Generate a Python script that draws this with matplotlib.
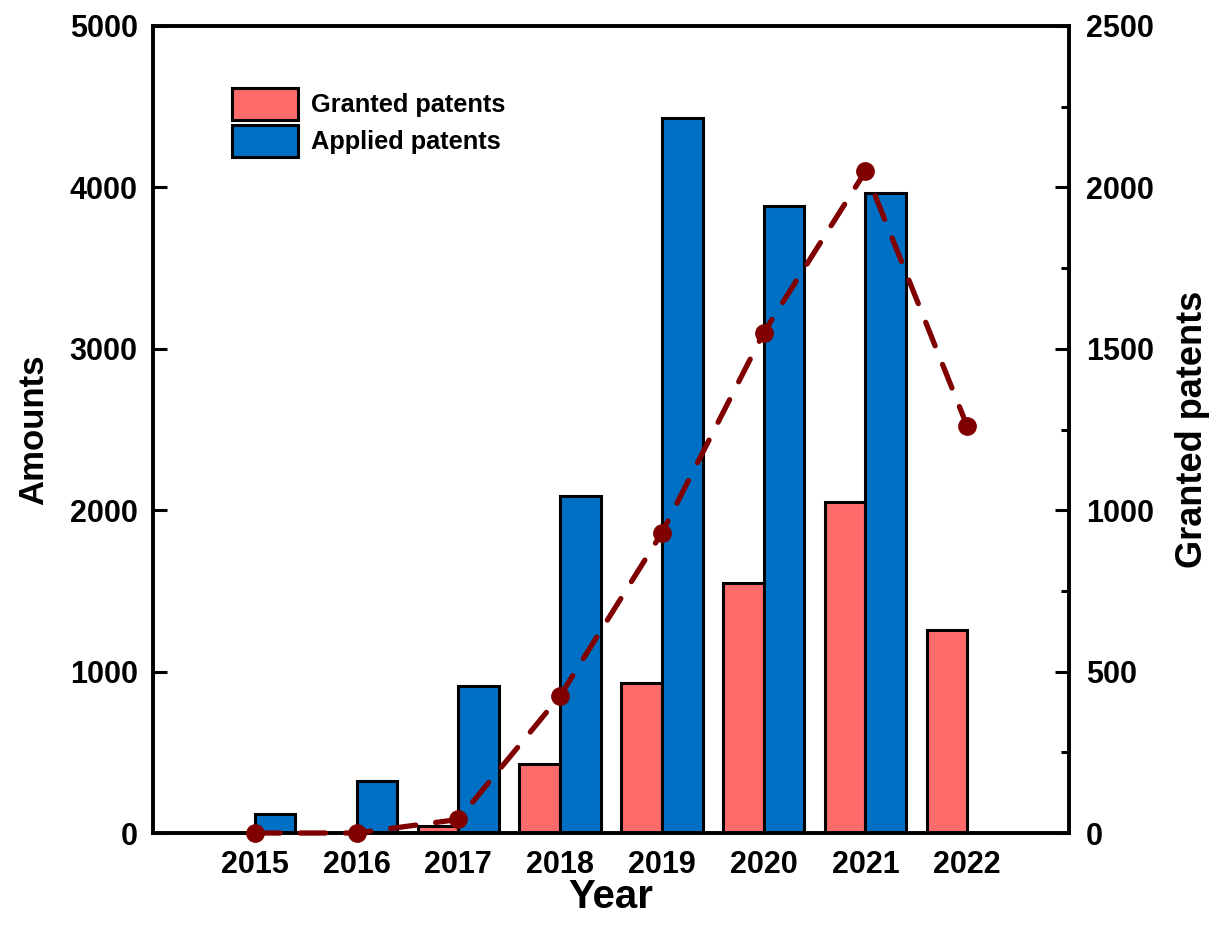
import matplotlib
matplotlib.use("Agg")
import matplotlib.pyplot as plt
import numpy as np

years = [2015, 2016, 2017, 2018, 2019, 2020, 2021, 2022]
applied = [118, 320, 910, 2085, 4430, 3885, 3965, 0]
granted = [0, 0, 42, 425, 930, 1550, 2050, 1260]
left_ticks = [0, 1000, 2000, 3000, 4000, 5000]
right_ticks = [0, 500, 1000, 1500, 2000, 2500]

plt.rcParams['font.family'] = ['Liberation Sans', 'DejaVu Sans']
plt.rcParams['font.weight'] = 'bold'

fig = plt.figure(figsize=(12.17, 9.42), dpi=100)
ax = fig.add_axes([0.1257, 0.1157, 0.8784 - 0.1257, 0.9724 - 0.1157])

x = np.array(years, dtype=float)
w = 0.4
red = '#FF6B6B'
blue = '#0070C4'
ax.bar(x - w / 2, granted, width=w, color=red, edgecolor='black', linewidth=2.2,
       label='Granted patents', zorder=2)
ax.bar(x + w / 2, applied, width=w, color=blue, edgecolor='black', linewidth=2.2,
       label='Applied patents', zorder=2)

ax.set_xlim(2014, 2023)
ax.set_ylim(0, 5000)
ax.set_xticks(years)
ax.set_xticklabels([str(y) for y in years])
ax.set_yticks(left_ticks)
ax.tick_params(axis='x', length=0, pad=12, labelsize=22)
ax.tick_params(axis='y', direction='in', length=10, width=2.2, pad=11, labelsize=22)
for lab in ax.get_xticklabels() + ax.get_yticklabels():
    lab.set_fontweight('bold')
for s in ax.spines.values():
    s.set_linewidth(2.6)

ax.set_xlabel('Year', fontsize=29, fontweight='bold', labelpad=-1)
ax.set_ylabel('Amounts', fontsize=25, fontweight='bold', labelpad=14)

ax2 = ax.twinx()
ax2.set_ylim(0, 2500)
ax2.set_yticks(right_ticks)
ax2.set_yticks(np.arange(250, 2500, 500), minor=True)
ax2.tick_params(axis='y', which='major', direction='in', length=10, width=2.2, pad=12, labelsize=22)
ax2.tick_params(axis='y', which='minor', direction='in', length=6, width=2.2)
for lab in ax2.get_yticklabels():
    lab.set_fontweight('bold')
ax2.set_ylabel('Granted patents', fontsize=26, fontweight='bold', labelpad=15)
for s in ax2.spines.values():
    s.set_linewidth(2.6)

line, = ax2.plot(x, granted, color='#800000', linewidth=3.8, linestyle='--',
                 marker='o', markersize=12.5, clip_on=False, zorder=5,
                 dash_capstyle='round')
line.set_dashes((4.8, 3.8))

leg = ax.legend(loc='upper left', bbox_to_anchor=(0.086, 0.923), frameon=False,
                borderpad=0, borderaxespad=0, handlelength=2.6, handleheight=1.55,
                labelspacing=0.2, handletextpad=0.5,
                prop={'size': 18.3, 'weight': 'bold'})

fig.savefig('out.png', dpi=100)
